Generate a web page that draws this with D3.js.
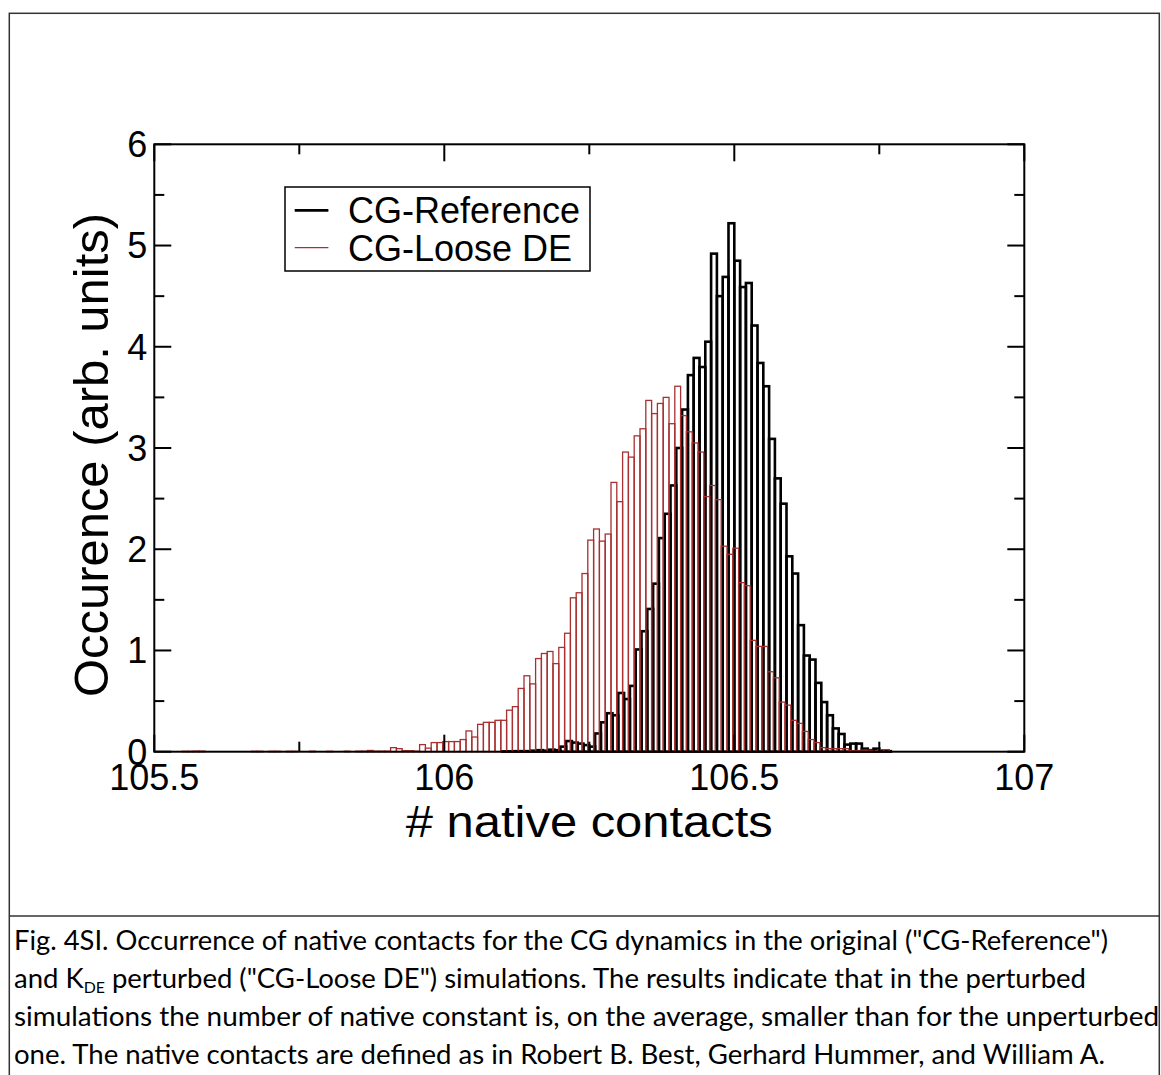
<!DOCTYPE html>
<html>
<head>
<meta charset="utf-8">
<script src="https://cdn.jsdelivr.net/npm/d3@7"></script>
<style>
  body { margin: 0; background: #fff; }
  svg { display: block; }
</style>
</head>
<body>
<svg id="chart" width="1161" height="1075"></svg>
<script>
// Histogram data (bins are 0.01 wide)
const binWidth = 0.01;

// CG-Reference, first bin starts at 106.10
const refStart = 106.10;
const refValues = [
  0.003, 0.003, 0.005, 0.005, 0.005, 0.01, 0.015, 0.01, 0.02, 0.015,
  0.05, 0.105, 0.09, 0.08, 0.065, 0.05, 0.18, 0.29, 0.38, 0.36,
  0.58, 0.52, 0.65, 1.01, 1.19, 1.41, 1.66, 2.11, 2.35, 2.63,
  3.00, 3.38, 3.72, 3.89, 3.80, 4.05, 4.92, 4.50, 4.69, 5.22,
  4.85, 4.59, 4.63, 4.21, 3.84, 3.61, 3.09, 2.70, 2.45, 1.93,
  1.76, 1.25, 0.95, 0.91, 0.68, 0.49, 0.36, 0.23, 0.175, 0.07,
  0.08, 0.08, 0.03, 0.015, 0.03, 0.01, 0.005
];

// CG-Loose DE, first bin starts at 105.55
const looseStart = 105.55;
const looseValues = [
  0.004, 0.004, 0.006, 0.006, 0,
  0, 0, 0, 0, 0, 0, 0, 0.004, 0.004, 0,
  0.004, 0.004, 0, 0.004, 0.004, 0, 0, 0.005, 0, 0,
  0.004, 0, 0, 0.005, 0, 0.005, 0.005, 0.012, 0.005, 0.005,
  0.005, 0.04, 0.03, 0.01, 0.01, 0.005, 0.07, 0.035, 0.09, 0.09,
  0.1, 0.1, 0.1, 0.12, 0.205, 0.145, 0.27, 0.29, 0.29, 0.31,
  0.31, 0.41, 0.445, 0.625, 0.75, 0.67, 0.92, 0.97, 0.99, 0.87,
  1.03, 1.17, 1.52, 1.57, 1.76, 2.09, 2.20, 2.08, 2.15, 2.66,
  2.47, 2.96, 2.91, 3.12, 3.19, 3.47, 3.34, 3.44, 3.50, 3.24,
  3.61, 3.32, 3.16, 3.05, 2.96, 2.52, 2.63, 2.49, 2.03, 1.95,
  2.01, 1.67, 1.64, 1.10, 1.04, 1.04, 0.79, 0.73, 0.49, 0.46,
  0.31, 0.28, 0.20, 0.12, 0.09, 0.04, 0.03, 0.03, 0.03, 0.03,
  0.01, 0.01, 0.015, 0.015, 0.005, 0.02, 0.02
];

// Axes
const xMajor = [105.5, 106, 106.5, 107];
const xMinor = [105.75, 106.25, 106.75];
const yMajor = [0, 1, 2, 3, 4, 5, 6];
const yMinor = [0.5, 1.5, 2.5, 3.5, 4.5, 5.5];

const seriesNames = ["CG-Reference", "CG-Loose DE"];
const seriesColors = ["#000000", "#a83030"];

const captionLines = [
  [{ t: 'Fig. 4SI. Occurrence of native contacts for the CG dynamics in the original ("CG-Reference")' }],
  [{ t: 'and K' }, { t: 'DE', sub: true }, { t: ' perturbed ("CG-Loose DE") simulations. The results indicate that in the perturbed' }],
  [{ t: 'simulations the number of native constant is, on the average, smaller than for the unperturbed' }],
  [{ t: 'one. The native contacts are defined as in Robert B. Best, Gerhard Hummer, and William A.' }]
];
const captionWidths = [1094, 1072, 1145, 1091];

const svg = d3.select("#chart");
const font = "'Liberation Sans', Arial, Helvetica, sans-serif";

// Plot frame
const plot = { left: 154.3, right: 1024.3, top: 144.3, bottom: 751.7 };
const x = d3.scaleLinear().domain([105.5, 107]).range([plot.left, plot.right]);
const y = d3.scaleLinear().domain([0, 6]).range([plot.bottom, plot.top]);

// Outer figure border and caption box
svg.append("rect")
    .attr("x", 9.3).attr("y", 13.3)
    .attr("width", 1150).attr("height", 1080)
    .attr("fill", "none").attr("stroke", "#333").attr("stroke-width", 1.5);
svg.append("line")
    .attr("x1", 9.3).attr("x2", 1159.3)
    .attr("y1", 916).attr("y2", 916)
    .attr("stroke", "#333").attr("stroke-width", 1.5);

// Build bins from start + values
function toBins(start, values) {
    return values.map((v, i) => ({ x0: start + i * binWidth, x1: start + (i + 1) * binWidth, v }))
        .filter(d => d.v > 0);
}

function drawHist(bins, color, width, dx) {
    svg.append("g")
        .attr("transform", `translate(${dx},0)`)
        .selectAll("rect")
        .data(bins)
        .join("rect")
        .attr("x", d => x(d.x0))
        .attr("y", d => y(d.v))
        .attr("width", d => x(d.x1) - x(d.x0))
        .attr("height", d => y(0) - y(d.v))
        .attr("fill", "none")
        .attr("stroke", color)
        .attr("stroke-width", width);
}

drawHist(toBins(refStart, refValues), seriesColors[0], 2.6, 0);
drawHist(toBins(looseStart, looseValues), seriesColors[1], 1.3, -1.5);

// Frame
svg.append("rect")
    .attr("x", plot.left).attr("y", plot.top)
    .attr("width", plot.right - plot.left).attr("height", plot.bottom - plot.top)
    .attr("fill", "none").attr("stroke", "#000").attr("stroke-width", 2);

// Ticks on all four sides, pointing inward
const ticks = svg.append("g").attr("stroke", "#000").attr("stroke-width", 2);
function xTicks(vals, len) {
    vals.forEach(v => {
        ticks.append("line").attr("x1", x(v)).attr("x2", x(v))
            .attr("y1", plot.bottom).attr("y2", plot.bottom - len);
        ticks.append("line").attr("x1", x(v)).attr("x2", x(v))
            .attr("y1", plot.top).attr("y2", plot.top + len);
    });
}
function yTicks(vals, len) {
    vals.forEach(v => {
        ticks.append("line").attr("y1", y(v)).attr("y2", y(v))
            .attr("x1", plot.left).attr("x2", plot.left + len);
        ticks.append("line").attr("y1", y(v)).attr("y2", y(v))
            .attr("x1", plot.right).attr("x2", plot.right - len);
    });
}
xTicks(xMajor, 17);
xTicks(xMinor, 10);
yTicks(yMajor, 17);
yTicks(yMinor, 10);

// Tick labels
svg.append("g").selectAll("text")
    .data(xMajor)
    .join("text")
    .attr("x", d => x(d))
    .attr("y", 790)
    .attr("text-anchor", "middle")
    .attr("font-family", font)
    .attr("font-size", 36)
    .text(d => d);

svg.append("g").selectAll("text")
    .data(yMajor)
    .join("text")
    .attr("x", plot.left - 7)
    .attr("y", d => y(d))
    .attr("dy", ".36em")
    .attr("text-anchor", "end")
    .attr("font-family", font)
    .attr("font-size", 36)
    .text(d => d);

// Axis titles
svg.append("text")
    .attr("x", (plot.left + plot.right) / 2)
    .attr("y", 837)
    .attr("text-anchor", "middle")
    .attr("font-family", font)
    .attr("font-size", 45)
    .attr("textLength", 367)
    .attr("lengthAdjust", "spacingAndGlyphs")
    .text("# native contacts");

svg.append("text")
    .attr("transform", "translate(108,455) rotate(-90)")
    .attr("text-anchor", "middle")
    .attr("font-family", font)
    .attr("font-size", 48)
    .attr("textLength", 484)
    .attr("lengthAdjust", "spacingAndGlyphs")
    .text("Occurence (arb. units)");

// Legend
const legend = svg.append("g");
legend.append("rect")
    .attr("x", 285).attr("y", 187)
    .attr("width", 305).attr("height", 84)
    .attr("fill", "#fff").attr("stroke", "#000").attr("stroke-width", 1.5);
seriesNames.forEach((name, i) => {
    const ly = 210.4 + i * 37.2;
    legend.append("line")
        .attr("x1", 294.7).attr("x2", 328.4)
        .attr("y1", ly).attr("y2", ly)
        .attr("stroke", seriesColors[i])
        .attr("stroke-width", i === 0 ? 2.6 : 1.3);
    legend.append("text")
        .attr("x", 348)
        .attr("y", ly + 13)
        .attr("font-family", font)
        .attr("font-size", 36)
        .text(name);
});

// Caption below the figure
const capFont = "Lato, 'Noto Sans', sans-serif";
captionLines.forEach((parts, i) => {
    const t = svg.append("text")
        .attr("x", 14)
        .attr("y", 950 + i * 38)
        .attr("font-family", capFont)
        .attr("font-size", 26)
        .attr("fill", "#000");
    parts.forEach(p => {
        if (p.sub) {
            t.append("tspan").attr("font-size", 15).attr("dy", 5).text(p.t);
        } else {
            const s = t.append("tspan").text(p.t);
            if (t.selectAll("tspan").size() > 1) s.attr("dy", -5);
        }
    });
    t.attr("textLength", captionWidths[i]).attr("lengthAdjust", "spacingAndGlyphs");
});
</script>
</body>
</html>
